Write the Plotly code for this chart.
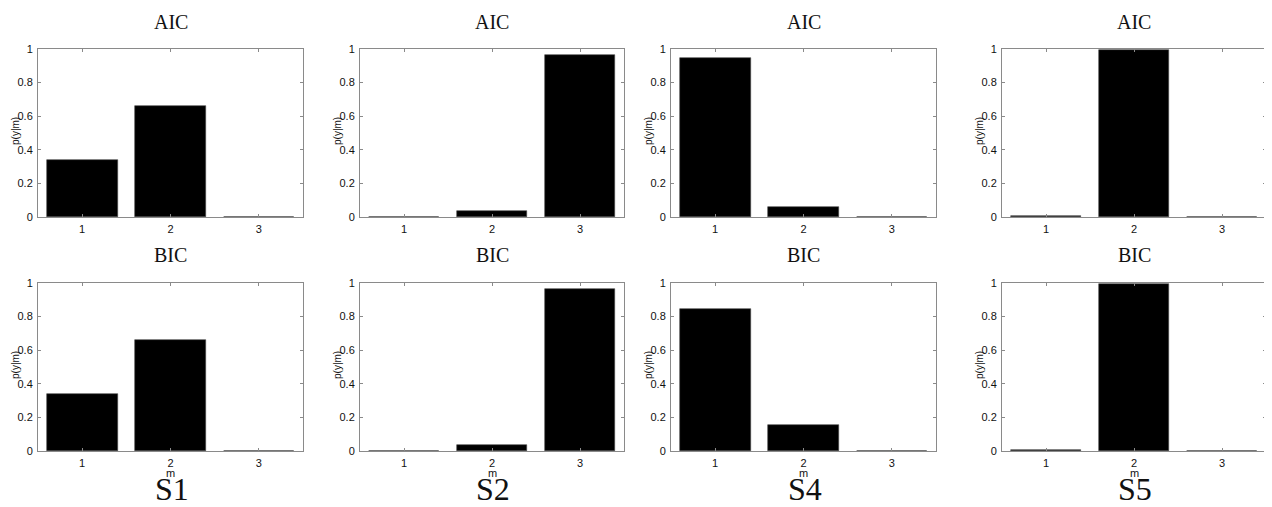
import plotly.graph_objects as go

models = [1, 2, 3]
subjects = ["S1", "S2", "S4", "S5"]
aic_S1 = [0.338, 0.662, 0.003]
aic_S2 = [0.002, 0.037, 0.962]
aic_S4 = [0.945, 0.059, 0.002]
aic_S5 = [0.006, 0.995, 0.002]
bic_S1 = [0.337, 0.662, 0.003]
bic_S2 = [0.002, 0.037, 0.962]
bic_S4 = [0.848, 0.154, 0.002]
bic_S5 = [0.006, 0.995, 0.002]
aic_rows = [aic_S1, aic_S2, aic_S4, aic_S5]
bic_rows = [bic_S1, bic_S2, bic_S4, bic_S5]
ytick_vals = [0, 0.2, 0.4, 0.6, 0.8, 1]
ytick_text = ["0", "0.2", "0.4", "0.6", "0.8", "1"]

# page body has an 8px margin; the figure starts at (8, 8) in the window
OFF = 8
W, H = 1264, 507 - OFF
col_px = [(38, 303), (360, 624), (671, 936), (1002, 1266)]
row_px = [(49, 217), (283, 451)]
row_titles = ["AIC", "BIC"]


def px_x(v):
    return min(1.0, (v - OFF) / W)


def px_y(v):
    return 1 - (v - OFF) / H


sans = "Liberation Sans Narrow, Arial Narrow, Liberation Sans, Arial"
serif = "Liberation Serif, Times New Roman, serif"
tick_font = dict(family=sans, size=11, color="#111")
fig = go.Figure()
annotations = []
layout = {}
idx = 0
for r, (rows, title) in enumerate(zip([aic_rows, bic_rows], row_titles)):
    for c, vals in enumerate(rows):
        idx += 1
        xa = "x" if idx == 1 else f"x{idx}"
        ya = "y" if idx == 1 else f"y{idx}"
        fig.add_trace(go.Bar(x=models, y=vals, width=0.8, xaxis=xa, yaxis=ya,
                             marker=dict(color="black", line=dict(color="#444", width=0.6)),
                             showlegend=False, hoverinfo="x+y"))
        x0, x1 = col_px[c]
        y0, y1 = row_px[r]
        axcommon = dict(showline=True, linecolor="#8a8a8a", linewidth=1, mirror="ticks",
                        ticks="inside", ticklen=3, tickcolor="#8a8a8a", showgrid=False,
                        zeroline=False, tickfont=tick_font, fixedrange=True, automargin=False)
        layout["xaxis" if idx == 1 else f"xaxis{idx}"] = dict(
            domain=[px_x(x0), px_x(x1)], range=[0.5, 3.5], tickvals=models,
            ticktext=[str(m) for m in models], anchor=ya, ticklabelstandoff=2, **axcommon)
        layout["yaxis" if idx == 1 else f"yaxis{idx}"] = dict(
            domain=[px_y(y1), px_y(y0)], range=[0, 1], tickvals=ytick_vals, ticktext=ytick_text,
            anchor=xa, ticklabelstandoff=2, **axcommon)
        cx = (x0 + x1) / 2
        annotations.append(dict(text=title, x=px_x(cx), y=px_y(22 if r == 0 else 255),
                                xref="paper", yref="paper", showarrow=False,
                                font=dict(family=serif, size=20, color="#111"),
                                xanchor="center", yanchor="middle"))
        annotations.append(dict(text="p(y|m)", x=px_x(x0 - 23), y=px_y((y0 + y1) / 2 - 2),
                                xref="paper", yref="paper", showarrow=False, textangle=-90,
                                font=dict(family=sans, size=10, color="#111"),
                                xanchor="center", yanchor="middle"))
        if r == 1:
            annotations.append(dict(text="m", x=px_x(cx), y=px_y(473),
                                    xref="paper", yref="paper", showarrow=False,
                                    font=dict(family=sans, size=11, color="#111"),
                                    xanchor="center", yanchor="middle"))
            annotations.append(dict(text=subjects[c], x=px_x(cx + 1), y=px_y(489),
                                    xref="paper", yref="paper", showarrow=False,
                                    font=dict(family=serif, size=32, color="#111"),
                                    xanchor="center", yanchor="middle"))

fig.update_layout(width=W, height=H, margin=dict(l=0, r=0, t=0, b=0, autoexpand=False),
                  paper_bgcolor="white", plot_bgcolor="white", bargap=0,
                  annotations=annotations, **layout)
fig.write_html("out.html")
